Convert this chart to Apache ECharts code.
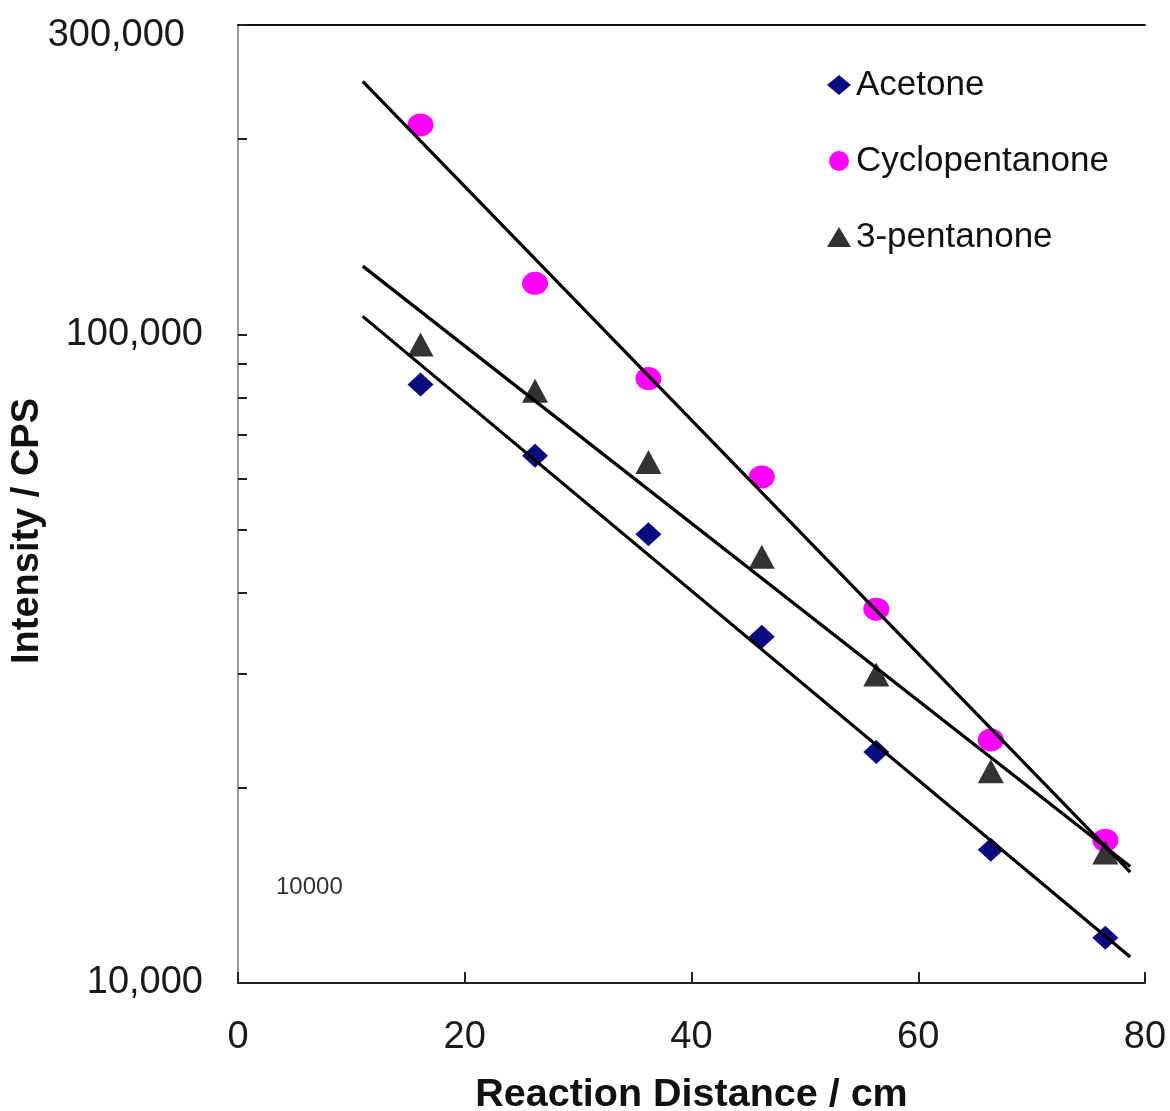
<!DOCTYPE html>
<html>
<head>
<meta charset="utf-8">
<script src="https://cdn.jsdelivr.net/npm/echarts@6/dist/echarts.min.js"></script>
<style>
html,body{margin:0;padding:0;background:#fff;}
#chart{width:1170px;height:1111px;}
</style>
</head>
<body>
<div id="chart"></div>
<script>
// ---- data ----
const xValues = [16.1, 26.2, 36.2, 46.2, 56.3, 66.4, 76.5];
const acetone = [83700, 65000, 49200, 34200, 22700, 16050, 11740];
const cyclopentanone = [210400, 119900, 85500, 60300, 37700, 23700, 16600];
const pentanone3 = [96500, 81900, 63600, 45400, 29900, 21200, 15900];
const seriesNames = ['Acetone', 'Cyclopentanone', '3-pentanone'];
const yLabelValues = [10000, 100000, 300000];
const yTickValues = [10000, 20000, 30000, 40000, 50000, 60000, 70000, 80000, 90000, 100000, 200000, 300000];
const trendRange = [11, 78.7];
const strayText = '10000';

// exponential (log-linear) least-squares fit, like a spreadsheet trendline
function expFit(xs, ys) {
  const n = xs.length;
  const ly = ys.map(v => Math.log10(v));
  const mx = xs.reduce((a, b) => a + b, 0) / n;
  const my = ly.reduce((a, b) => a + b, 0) / n;
  let sxy = 0, sxx = 0;
  for (let i = 0; i < n; i++) { sxy += (xs[i] - mx) * (ly[i] - my); sxx += (xs[i] - mx) ** 2; }
  const b = sxy / sxx, a = my - b * mx;
  return x => Math.pow(10, a + b * x);
}
function pairs(xs, ys) { return xs.map((x, i) => [x, ys[i]]); }
function trend(ys) { const f = expFit(xValues, ys); return trendRange.map(x => [x, f(x)]); }

const FONT = "'Liberation Sans', Arial, sans-serif";
const chart = echarts.init(document.getElementById('chart'));

const markerDefs = [
  { name: seriesNames[0], data: acetone, symbol: 'diamond', size: [26, 24], color: '#0b0b80' },
  { name: seriesNames[1], data: cyclopentanone, symbol: 'circle', size: [26, 23], color: '#ff00ff' },
  { name: seriesNames[2], data: pentanone3, symbol: 'triangle', size: [26, 24], color: '#333333' }
];

const series = [];
markerDefs.forEach(d => {
  series.push({
    name: d.name, type: 'scatter', data: pairs(xValues, d.data),
    symbol: d.symbol, symbolSize: d.size, itemStyle: { color: d.color, opacity: 1 }, z: 2
  });
});
markerDefs.forEach(d => {
  series.push({
    name: d.name + ' trend', type: 'line', data: trend(d.data),
    showSymbol: false, symbol: 'none', lineStyle: { color: '#000', width: 3.2 }, z: 3, silent: true
  });
});

chart.setOption({
  animation: false,
  backgroundColor: '#fff',
  grid: { left: 238, top: 25, right: 25, bottom: 128, containLabel: false, outerBoundsMode: 'none' },
  legend: {
    data: seriesNames, orient: 'vertical', left: 822, top: 60,
    itemWidth: 24, itemHeight: 20, itemGap: 36,
    textStyle: { fontFamily: FONT, fontSize: 35, color: '#111', lineHeight: 40 }
  },
  xAxis: [{
    type: 'value', min: 0, max: 80, interval: 20,
    name: 'Reaction Distance / cm', nameLocation: 'middle', nameGap: 92,
    nameTextStyle: { fontFamily: FONT, fontSize: 39.5, fontWeight: 'bold', color: '#111' },
    axisLine: { show: true, lineStyle: { color: '#222', width: 2 } },
    axisTick: { show: true, inside: true, length: 11, lineStyle: { color: '#222', width: 2 } },
    axisLabel: { fontFamily: FONT, fontSize: 38, color: '#1a1a1a', margin: 36 },
    splitLine: { show: false }
  }, {
    type: 'value', min: 0, max: 80, position: 'top',
    axisLine: { show: true, lineStyle: { color: '#111', width: 2 } },
    axisTick: { show: false }, axisLabel: { show: false }, splitLine: { show: false }
  }],
  yAxis: [{
    type: 'log', logBase: 10, min: 10000, max: 300000,
    name: 'Intensity / CPS', nameLocation: 'middle', nameGap: 191, nameRotate: 90, nameMoveOverlap: false,
    nameTextStyle: { fontFamily: FONT, fontSize: 38, fontWeight: 'bold', color: '#111', padding: [0, 54, 0, 0] },
    axisLine: { show: true, lineStyle: { color: '#222', width: 2 } },
    axisTick: { show: true, inside: true, length: 9, customValues: yTickValues, lineStyle: { color: '#222', width: 2 } },
    axisLabel: {
      fontFamily: FONT, fontSize: 38, color: '#1a1a1a', margin: 35, customValues: yLabelValues,
      formatter: v => {
        const r = Math.round(v);
        const s = r.toLocaleString('en-US');
        return r >= 250000 ? '{top|' + s + '}' : s;
      },
      rich: { top: { fontFamily: FONT, fontSize: 38, color: '#1a1a1a', padding: [22, 18, 0, 0] } }
    },
    splitLine: { show: false }, minorTick: { show: false }
  }, {
    type: 'log', logBase: 10, min: 10000, max: 300000, position: 'right',
    axisLine: { show: true, lineStyle: { color: '#999', width: 2 } },
    axisTick: { show: false }, axisLabel: { show: false }, splitLine: { show: false }
  }],
  graphic: [{
    type: 'text', left: 276, top: 875,
    style: { text: strayText, fontFamily: FONT, fontSize: 24, fill: '#333' }
  }],
  series: series
});
</script>
</body>
</html>
